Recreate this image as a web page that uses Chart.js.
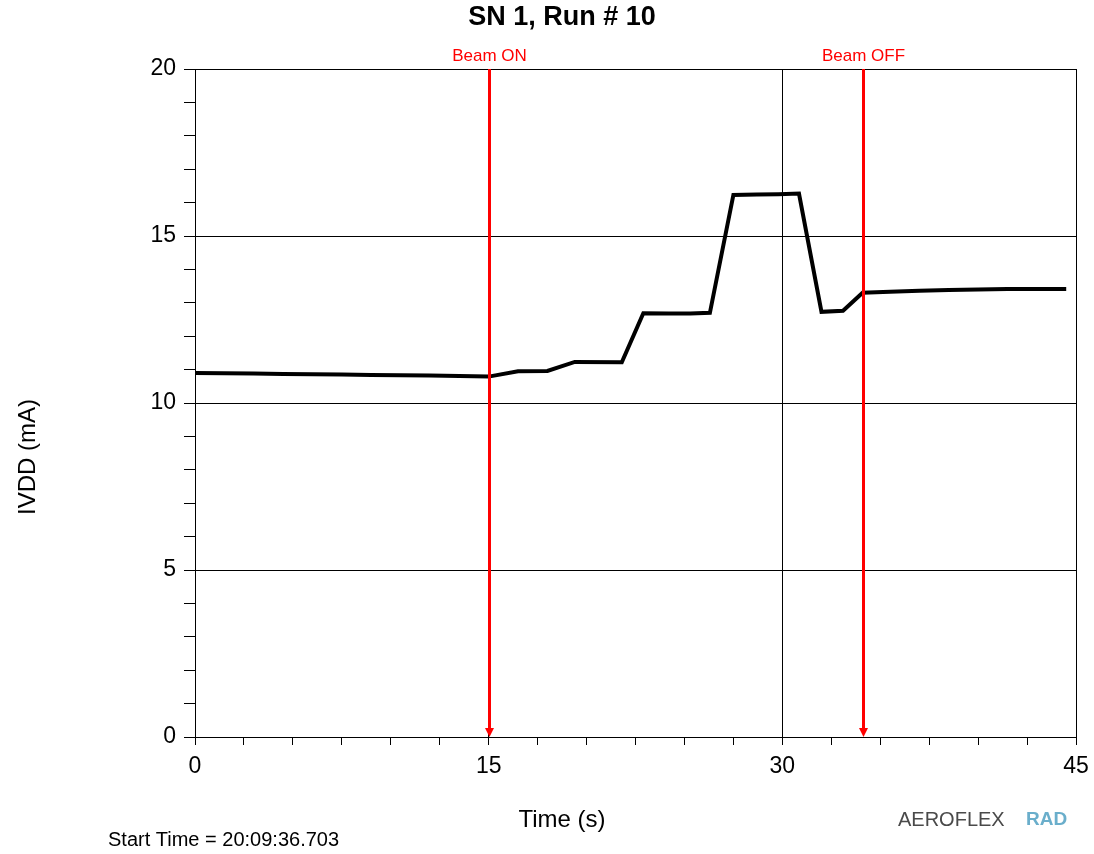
<!DOCTYPE html>
<html>
<head>
<meta charset="utf-8">
<script src="https://cdn.jsdelivr.net/npm/chart.js@4"></script>
<style>
  html, body { margin: 0; padding: 0; background: #fff; }
  #wrap { width: 1094px; height: 854px; }
</style>
</head>
<body>
<div id="wrap"><canvas id="chart" width="1094" height="854"></canvas></div>
<script>
// time (s) and supply current (mA)
const timeS = [0, 1.5, 3, 4.5, 6, 7.5, 9, 10.5, 12, 13.5, 15, 16.5, 18, 19.4, 21.8, 22.9, 24.2, 25.3, 26.3,
               27.5, 28.7, 29.8, 30.85, 32.0, 33.1, 34.1, 35.5, 37, 38.5, 40, 41.5, 43, 44.5];
const ivdd = [10.9, 10.89, 10.88, 10.87, 10.86, 10.85, 10.84, 10.83, 10.82, 10.81, 10.79, 10.95, 10.96, 11.23, 11.22, 12.69, 12.68, 12.68, 12.7,
              16.23, 16.24, 16.25, 16.27, 12.73, 12.76, 13.3, 13.33, 13.36, 13.38, 13.4, 13.41, 13.41, 13.41];
const beamMarks = [15, 34.1];
const beamLabels = ['Beam ON', 'Beam OFF'];
const xMajor = [0, 15, 30, 45];
const yMajor = [0, 5, 10, 15, 20];

const points = timeS.map((t, i) => ({ x: t, y: ivdd[i] }));

const extras = {
  id: 'extras',
  afterDatasetsDraw(chart) {
    const { ctx, chartArea: a, scales } = chart;
    ctx.save();
    // frame
    ctx.strokeStyle = '#000';
    ctx.lineWidth = 1;
    ctx.strokeRect(a.left + 0.5, a.top + 0.5, a.right - a.left, a.bottom - a.top);
    // beam markers
    beamMarks.forEach((t, i) => {
      const x = Math.round(scales.x.getPixelForValue(t)) + 0.5;
      ctx.strokeStyle = '#ff0000';
      ctx.lineWidth = 3;
      ctx.beginPath();
      ctx.moveTo(x, a.top);
      ctx.lineTo(x, a.bottom - 6);
      ctx.stroke();
      ctx.fillStyle = '#ff0000';
      ctx.beginPath();
      ctx.moveTo(x - 4.5, a.bottom - 9);
      ctx.lineTo(x + 4.5, a.bottom - 9);
      ctx.lineTo(x, a.bottom);
      ctx.closePath();
      ctx.fill();
      ctx.font = '17px "Liberation Sans Narrow", "Liberation Sans", Arial, sans-serif';
      ctx.textAlign = 'center';
      ctx.textBaseline = 'middle';
      ctx.fillText(beamLabels[i], x, 56);
    });
    ctx.restore();
  },
  afterDraw(chart) {
    const { ctx } = chart;
    ctx.save();
    ctx.fillStyle = '#000';
    ctx.textBaseline = 'middle';
    ctx.textAlign = 'center';
    ctx.font = 'bold 27px "Liberation Sans", Arial, sans-serif';
    ctx.fillText('SN 1, Run # 10', 562, 18);
    ctx.font = '24px "Liberation Sans", Arial, sans-serif';
    ctx.fillText('Time (s)', 562, 820);
    // y axis title
    ctx.save();
    ctx.translate(28, 457);
    ctx.rotate(-Math.PI / 2);
    ctx.fillText('IVDD (mA)', 0, 0);
    ctx.restore();
    ctx.textAlign = 'left';
    ctx.font = '20px "Liberation Sans", Arial, sans-serif';
    ctx.fillText('Start Time = 20:09:36.703', 108, 840);
    // logo
    ctx.font = '20px "Liberation Sans Narrow", "Liberation Sans", Arial, sans-serif';
    ctx.fillStyle = '#4a4a4a';
    ctx.fillText('AEROFLEX', 898, 820);
    ctx.font = 'bold 19px "Liberation Sans", Arial, sans-serif';
    ctx.fillStyle = '#6aaecb';
    ctx.fillText('RAD', 1026, 820);
    ctx.restore();
  }
};

new Chart(document.getElementById('chart'), {
  type: 'line',
  data: {
    datasets: [{
      data: points,
      borderColor: '#000',
      borderWidth: 4,
      pointRadius: 0,
      tension: 0,
      fill: false
    }]
  },
  options: {
    responsive: false,
    animation: false,
    layout: { padding: { top: 69, right: 18, left: 0, bottom: 0 } },
    plugins: { legend: { display: false }, tooltip: { enabled: false }, title: { display: false } },
    scales: {
      x: {
        type: 'linear',
        min: 0,
        max: 45,
        afterFit(scale) {
          scale.height = 117;
          scale.paddingLeft = 0;
          scale.paddingRight = 0;
        },
        afterBuildTicks(scale) {
          const t = [];
          for (let v = 0; v <= 45; v += 2.5) t.push({ value: v });
          scale.ticks = t;
        },
        ticks: {
          autoSkip: false,
          maxRotation: 0,
          padding: 8,
          color: '#000',
          font: { size: 23, family: '"Liberation Sans", Arial, sans-serif' },
          callback: v => xMajor.includes(v) ? String(v) : ''
        },
        grid: {
          color: c => xMajor.includes(c.tick && c.tick.value) ? '#000' : 'rgba(0,0,0,0)',
          tickColor: '#000',
          tickLength: 8,
          lineWidth: 1
        },
        border: { display: true, color: '#000', width: 1 }
      },
      y: {
        min: 0,
        max: 20,
        afterFit(scale) {
          scale.width = 195;
          scale.paddingTop = 0;
          scale.paddingBottom = 0;
        },
        afterBuildTicks(scale) {
          const t = [];
          for (let v = 0; v <= 20; v += 1) t.push({ value: v });
          scale.ticks = t;
        },
        ticks: {
          autoSkip: false,
          padding: 8,
          color: '#000',
          font: { size: 23, family: '"Liberation Sans", Arial, sans-serif' },
          callback: v => yMajor.includes(v) ? String(v) : ''
        },
        grid: {
          color: c => yMajor.includes(c.tick && c.tick.value) ? '#000' : 'rgba(0,0,0,0)',
          tickColor: '#000',
          tickLength: 11,
          lineWidth: 1
        },
        border: { display: true, color: '#000', width: 1 }
      }
    }
  },
  plugins: [extras]
});
</script>
</body>
</html>
